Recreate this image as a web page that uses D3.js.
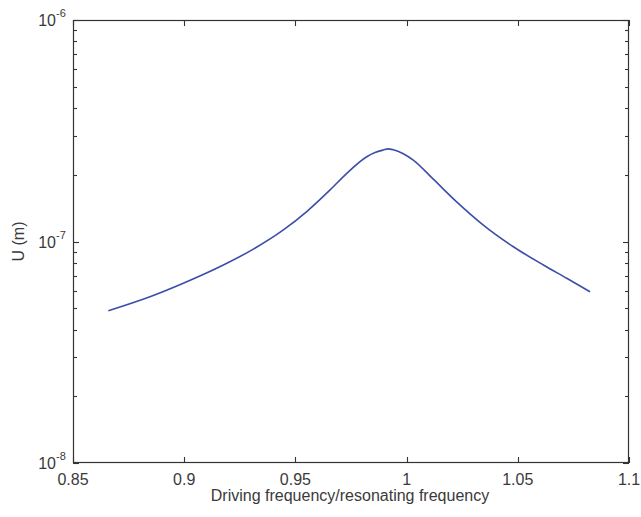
<!DOCTYPE html>
<html>
<head>
<meta charset="utf-8">
<script src="https://cdn.jsdelivr.net/npm/d3@7"></script>
<style>
  html, body { margin: 0; padding: 0; background: #ffffff; }
  svg { display: block; }
  text { font-family: "Liberation Sans", Arial, Helvetica, sans-serif; fill: #3a3a3a; }
</style>
</head>
<body>
<svg id="chart" width="641" height="517"></svg>
<script>
// Frequency ratio (driving / resonating)
const freqRatio = [0.8659, 0.8846, 0.8996, 0.9176, 0.9311, 0.9446, 0.9551, 0.9656, 0.9731,
  0.9821, 0.9858, 0.9895, 0.9917, 0.9940, 0.9985, 1.0030, 1.0120, 1.0225, 1.0345, 1.0480, 1.0615, 1.0720, 1.0825];
// Displacement amplitude U (m)
const displacement = [4.87e-8, 5.63e-8, 6.48e-8, 7.83e-8, 9.24e-8, 1.128e-7, 1.365e-7, 1.709e-7, 2.032e-7,
  2.414e-7, 2.52e-7, 2.588e-7, 2.62e-7, 2.595e-7, 2.49e-7, 2.332e-7, 1.911e-7, 1.51e-7, 1.186e-7, 9.47e-8, 7.83e-8, 6.82e-8, 5.93e-8];

const xTicks = [0.85, 0.9, 0.95, 1, 1.05, 1.1];
const xTickLabels = ["0.85", "0.9", "0.95", "1", "1.05", "1.1"];
const yMajorTicks = [1e-8, 1e-7, 1e-6];
const yExponents = ["-8", "-7", "-6"];

const margin = { left: 73, right: 12, top: 20, bottom: 54 };
const W = 641, H = 517;
const x0 = margin.left, x1 = W - margin.right, y0 = margin.top, y1 = H - margin.bottom;

const svg = d3.select("#chart");
const x = d3.scaleLinear().domain([0.85, 1.1]).range([x0, x1]);
const y = d3.scaleLog().domain([1e-8, 1e-6]).range([y1, y0]);

// minor log ticks 2..9 in each decade
const yMinor = [];
[1e-8, 1e-7].forEach(d => { for (let k = 2; k <= 9; k++) yMinor.push(d * k); });

const axisColor = "#333";
const majorLen = 6, minorLen = 4;
const ticks = svg.append("g");

function tickLine(xa, ya, xb, yb) {
  ticks.append("line").attr("x1", xa).attr("y1", ya).attr("x2", xb).attr("y2", yb)
    .attr("stroke", axisColor).attr("stroke-width", 1.1);
}

// y ticks on left and right edges, pointing inward
function yTick(v, len) {
  const py = Math.round(y(v)) + 0.5;
  tickLine(x0, py, x0 + len, py);
  tickLine(x1, py, x1 - len, py);
}
yMajorTicks.forEach(v => yTick(v, majorLen));
yMinor.forEach(v => yTick(v, minorLen));

// x ticks on bottom and top edges, pointing inward
xTicks.forEach(v => {
  const px = Math.round(x(v)) + 0.5;
  tickLine(px, y1, px, y1 - majorLen);
  tickLine(px, y0, px, y0 + majorLen);
});

// box
svg.append("rect").attr("x", x0 + 0.5).attr("y", y0 + 0.5)
  .attr("width", x1 - x0 - 1).attr("height", y1 - y0 - 1)
  .attr("fill", "none").attr("stroke", axisColor).attr("stroke-width", 1.2);

// x tick labels
svg.append("g").selectAll("text").data(xTicks).join("text")
  .attr("x", d => x(d)).attr("y", y1 + 22)
  .attr("text-anchor", "middle").attr("font-size", 16)
  .text((d, i) => xTickLabels[i]);

// y tick labels as 10^n
const yl = svg.append("g").selectAll("g").data(yMajorTicks).join("g")
  .attr("transform", d => `translate(${x0 - 7},${y(d)})`);
yl.append("text").attr("x", -10).attr("y", 6).attr("text-anchor", "end")
  .attr("font-size", 16).text("10");
yl.append("text").attr("x", -10).attr("y", -3).attr("text-anchor", "start")
  .attr("font-size", 11).text((d, i) => yExponents[i]);

// axis titles
svg.append("text").attr("x", 350).attr("y", y1 + 38)
  .attr("text-anchor", "middle").attr("font-size", 16)
  .text("Driving frequency/resonating frequency");
svg.append("text")
  .attr("transform", `translate(24,${(y0 + y1) / 2}) rotate(-90)`)
  .attr("text-anchor", "middle").attr("font-size", 16)
  .text("U (m)");

// response curve
const line = d3.line().x((d, i) => x(freqRatio[i])).y(d => y(d)).curve(d3.curveMonotoneX);
svg.append("path").datum(displacement)
  .attr("d", line).attr("fill", "none")
  .attr("stroke", "#3b4ea8").attr("stroke-width", 1.6);
</script>
</body>
</html>
